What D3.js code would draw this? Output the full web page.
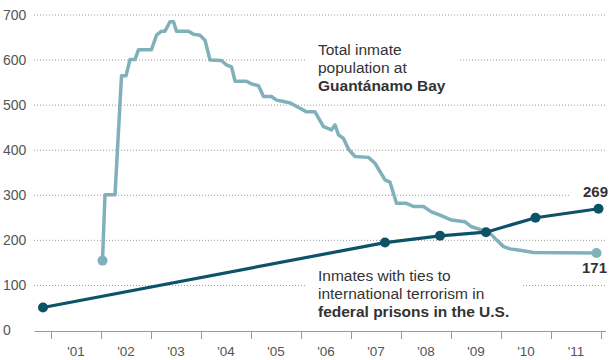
<!DOCTYPE html>
<html><head><meta charset="utf-8">
<script src="https://cdn.jsdelivr.net/npm/d3@7"></script>
<style>body{margin:0;background:#fff}svg{display:block;font-family:"Liberation Sans",Arial,sans-serif}</style>
</head><body><svg id="c" width="610" height="360"></svg>
<script>
// Guantánamo total inmate population (decimal year, inmates)
const gitmoDates = [2002.03,2002.08,2002.28,2002.41,2002.50,2002.58,2002.68,2002.75,2003.01,2003.11,2003.21,2003.28,2003.38,2003.45,2003.51,2003.75,2003.85,2003.98,2004.08,2004.18,2004.41,2004.51,2004.61,2004.68,2004.91,2005.01,2005.15,2005.25,2005.41,2005.51,2005.65,2005.78,2005.98,2006.11,2006.28,2006.45,2006.55,2006.61,2006.68,2006.75,2006.85,2006.95,2007.08,2007.35,2007.48,2007.68,2007.78,2007.91,2008.11,2008.25,2008.45,2008.61,2008.78,2009.01,2009.28,2009.41,2009.61,2009.78,2009.91,2010.05,2010.18,2010.38,2010.65,2011.91];
const gitmoValues = [154,300,300,564,564,600,600,622,622,654,663,663,684,684,663,663,656,654,643,599,598,588,584,552,552,546,542,518,518,510,507,504,492,484,484,451,447,444,455,433,425,401,385,383,370,333,328,281,281,274,274,262,255,244,240,229,222,215,200,185,180,177,172,171];
// Inmates with ties to international terrorism in federal prisons
const fedDates = [2000.84,2007.68,2008.78,2009.70,2010.69,2011.95];
const fedValues = [50,194,209,217,249,269];
const yTicks = [0,100,200,300,400,500,600,700];
const yearLabels = ["'01","'02","'03","'04","'05","'06","'07","'08","'09","'10","'11"];
const yearStarts = [2001,2002,2003,2004,2005,2006,2007,2008,2009,2010,2011,2012];

const svg = d3.select("#c");
const x = d3.scaleLinear().domain([2001,2012]).range([51,601]);
const y = d3.scaleLinear().domain([0,700]).range([330,14.5]);
const light = "#80b1bb", dark = "#0c5368";

// gridlines
svg.append("g").selectAll("line").data(yTicks.filter(d=>d>0)).join("line")
  .attr("x1",34).attr("x2",607).attr("y1",d=>y(d)+0.5).attr("y2",d=>y(d)+0.5)
  .attr("stroke","#9a9a9a").attr("stroke-width",1).attr("stroke-dasharray","1,2");
// y labels
svg.append("g").selectAll("text").data(yTicks).join("text")
  .attr("x",3).attr("y",d=>y(d)+5).text(d=>d)
  .attr("font-size",14).attr("fill","#555");
// x axis
const xAxis = d3.axisBottom(x).tickValues(yearStarts).tickSize(8).tickFormat("");
const gx = svg.append("g").attr("transform","translate(0,331)").call(xAxis);
gx.select(".domain").attr("d","M34.5,0.5H606").attr("stroke","#999");
gx.selectAll(".tick line").attr("stroke","#999");
svg.append("g").selectAll("text").data(yearLabels).join("text")
  .attr("x",(d,i)=>x(yearStarts[i]+0.5)).attr("y",356).attr("text-anchor","middle")
  .attr("font-size",13.5).attr("fill","#555").text(d=>d);

// text label backgrounds + labels
function label(x0, ys, lines, bolds){
  const g = svg.append("g");
  lines.forEach((t,i)=>{
    g.append("text").attr("x",x0).attr("y",ys[i]).text(t)
     .attr("font-size",15.5).attr("fill","#333")
     .attr("font-weight",bolds[i]?"bold":"normal");
  });
  const bb = g.node().getBBox();
  g.insert("rect","text").attr("x",bb.x-12).attr("y",bb.y-2).attr("width",bb.width+24).attr("height",bb.height+4).attr("fill","#fff");
}
label(318,[55,73,91],["Total inmate","population at","Guantánamo Bay"],[0,0,1]);
label(318,[281,299,317],["Inmates with ties to","international terrorism in","federal prisons in the U.S."],[0,0,1]);

// end value label for federal series (with white background)
const lab269 = svg.append("g");
lab269.append("text").attr("x",608).attr("y",y(fedValues[fedValues.length-1])-12)
  .attr("text-anchor","end").attr("font-weight","bold").attr("font-size",15).attr("fill","#333").text(fedValues[fedValues.length-1]);
const b2 = lab269.node().getBBox();
lab269.insert("rect","text").attr("x",b2.x-14).attr("y",b2.y).attr("width",b2.width+20).attr("height",b2.height).attr("fill","#fff");

const line = d3.line().x(d=>x(d[0])).y(d=>y(d[1]));
const gData = gitmoDates.map((d,i)=>[d,gitmoValues[i]]);
const fData = fedDates.map((d,i)=>[d,fedValues[i]]);
svg.append("path").datum(gData).attr("d",line).attr("fill","none")
  .attr("stroke",light).attr("stroke-width",3.5).attr("stroke-linejoin","round");
svg.selectAll(".gd").data([gData[0],gData[gData.length-1]]).join("circle")
  .attr("cx",d=>x(d[0])).attr("cy",d=>y(d[1])).attr("r",5).attr("fill",light);
svg.append("path").datum(fData).attr("d",line).attr("fill","none")
  .attr("stroke",dark).attr("stroke-width",3.2).attr("stroke-linejoin","round");
svg.selectAll(".fd").data(fData).join("circle")
  .attr("cx",d=>x(d[0])).attr("cy",d=>y(d[1])).attr("r",5).attr("fill",dark);

svg.append("text").attr("x",607).attr("y",273)
  .attr("text-anchor","end").attr("font-weight","bold").attr("font-size",15).attr("fill","#333").text(gitmoValues[gitmoValues.length-1]);
</script></body></html>
